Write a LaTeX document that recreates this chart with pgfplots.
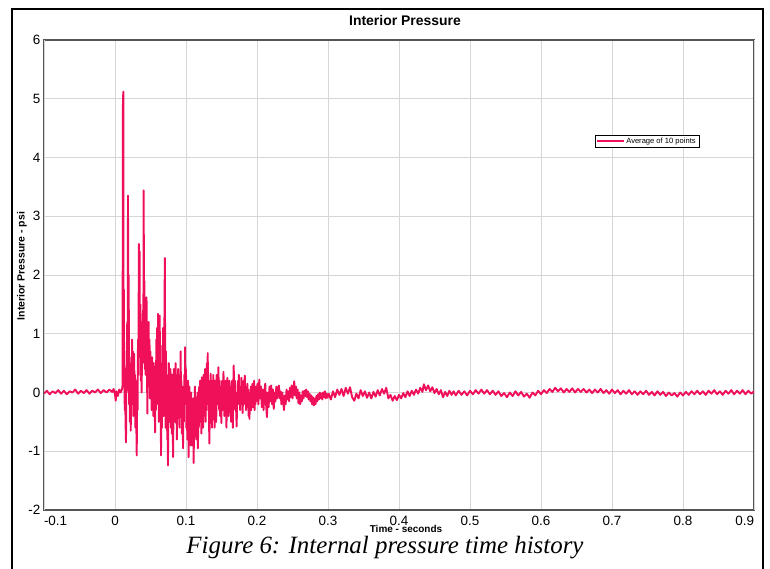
\documentclass[border=0pt]{standalone}
\usepackage{fontspec}
\setmainfont{Liberation Serif}
\setsansfont{Liberation Sans}
\usepackage{pgfplots}
\pgfplotsset{compat=1.18}

\definecolor{sig}{RGB}{240,16,90}
\definecolor{gridc}{RGB}{214,214,214}
\definecolor{framec}{RGB}{85,85,85}

\begin{document}
\begin{tikzpicture}
\useasboundingbox (0bp,0bp) rectangle (770bp,-569bp);
% outer frame of the figure
\draw[line width=2.4bp] (12bp,-572bp) -- (12bp,-9bp) -- (763bp,-9bp) -- (763bp,-572bp);

\begin{axis}[
  at={(44bp,-40bp)}, anchor=north west,
  width=710bp, height=470bp, scale only axis,
  xmin=-0.1, xmax=0.9, ymin=-2, ymax=6,
  xtick={0,0.1,0.2,0.3,0.4,0.5,0.6,0.7,0.8},
  extra x ticks={-0.1,0.9},
  extra x tick labels={\hphantom{-0.1}-0.1,0.9\hphantom{0.9}},
  ytick={-2,-1,0,1,2,3,4,5,6},
  /pgf/number format/assume math mode=true,
  ticklabel style={font=\sffamily\fontsize{13.5}{15}\selectfont},
  yticklabel style={inner sep=1bp, xshift=-2.5bp},
  xticklabel style={inner sep=1bp, yshift=-5bp},
  major tick length=0pt,
  grid=major,
  major grid style={gridc, line width=0.8bp},
  axis line style={framec, line width=1.3bp},
  title={Interior Pressure},
  title style={font=\sffamily\bfseries\fontsize{14}{16}\selectfont, at={(0.5,1)}, anchor=center, yshift=14bp, xshift=6bp},
  legend style={at={(rel axis cs:0.776,0.798)}, anchor=north west, draw=black, line width=0.9bp,
    font=\sffamily\fontsize{7.6}{8}\selectfont, inner xsep=2bp, inner ysep=0.3bp, row sep=0pt},
  legend cell align=left,
]
\addplot[sig, line width=1.9bp, line join=round,
  legend image code/.code={\fill[draw=none, fill=sig] (0cm,-0.7bp) rectangle (0.95cm,0.7bp);}] coordinates {
(-0.100,-0.02) (-0.096,0.03) (-0.092,-0.03) (-0.088,0.02) (-0.084,-0.01) (-0.080,0.04)
(-0.076,-0.02) (-0.072,0.03) (-0.068,-0.03) (-0.064,0.02) (-0.060,0.00) (-0.056,0.05)
(-0.052,-0.02) (-0.048,0.03) (-0.044,-0.01) (-0.040,0.04) (-0.036,-0.02) (-0.032,0.03)
(-0.028,0.00) (-0.024,0.05) (-0.020,-0.01) (-0.016,0.04) (-0.012,0.00) (-0.008,0.05)
(-0.004,0.01) (-0.002,0.06) (0.000,-0.03) (0.001,-0.14) (0.002,0.02) (0.004,-0.06)
(0.006,0.05) (0.008,0.00) (0.0100,0.06)
(0.0106,0.12) (0.0112,4.95) (0.0117,5.12) (0.0121,0.6) (0.0125,1.75) (0.0129,0.3)
(0.0133,0.7) (0.0137,-0.3) (0.0142,0.4) (0.0148,-0.5) (0.0155,-0.85) (0.0160,0.2)
(0.0166,0.0) (0.0172,1.2) (0.0178,0.3) (0.0183,3.35) (0.0188,0.8) (0.0193,2.0)
(0.0198,-0.2) (0.0204,0.6) (0.0210,-0.5) (0.0216,0.1) (0.0222,-0.65) (0.0228,0.5)
(0.0234,-0.2) (0.0240,0.9) (0.0246,0.1) (0.0252,0.7) (0.0258,-0.4) (0.0264,0.4)
(0.0270,0.66) (0.0276,-0.3) (0.0282,0.3) (0.0288,-0.6) (0.0294,0.2) (0.0300,-0.5)
(0.0306,-1.07) (0.0312,0.1) (0.0318,-0.3) (0.0324,0.9) (0.0330,0.3) (0.0336,2.53)
(0.0341,1.0) (0.0346,2.4) (0.0352,0.6) (0.0358,1.5) (0.0364,0.2) (0.0370,0.94)
(0.0376,0.0) (0.0382,1.2) (0.0388,0.5) (0.0394,1.4) (0.0399,0.8) (0.0404,3.44)
(0.0409,1.1) (0.0414,1.9) (0.0420,0.4) (0.0426,1.34) (0.0432,0.3) (0.0438,1.0)
(0.0444,1.62) (0.0450,0.5) (0.0456,-0.36) (0.0462,0.8) (0.0468,0.1) (0.0474,1.2)
(0.0480,0.2) (0.0486,0.9) (0.0492,-0.1) (0.0498,0.7) (0.0504,0.0) (0.0510,0.49)
(0.0516,-0.3) (0.0522,0.6) (0.0528,-0.1) (0.0534,0.3) (0.0540,-0.4) (0.0546,0.5)
(0.0552,-0.2) (0.0558,0.2) (0.0564,-0.68) (0.0570,0.4) (0.0576,-0.3) (0.0582,0.9)
(0.0588,-0.2) (0.0594,1.1) (0.0600,0.1) (0.0606,1.34) (0.0612,0.3) (0.0618,-0.5)
(0.0624,0.6) (0.0630,1.31) (0.0636,-0.4) (0.0642,0.4) (0.0648,-1.07) (0.0654,0.2)
(0.0660,-0.6) (0.0666,0.8) (0.0672,0.0) (0.0678,1.1) (0.0684,-0.4)
(0.0690,0.5) (0.0696,1.2) (0.0702,2.29) (0.0707,0.4) (0.0712,-0.6) (0.0718,0.7)
(0.0724,-0.3) (0.0730,0.3) (0.0736,-0.8) (0.0742,0.1) (0.0746,-1.24) (0.0752,-0.2)
(0.0758,0.5) (0.0764,-0.5) (0.0770,0.2) (0.0776,-0.3) (0.0782,0.4) (0.0788,-0.6)
(0.0794,0.1) (0.0800,-0.7) (0.0806,0.3) (0.0812,-0.4) (0.0818,-1.1) (0.0824,-0.2)
(0.0830,0.4) (0.0836,-0.5) (0.0842,0.2) (0.0848,-0.3) (0.0854,0.5) (0.0860,-0.52)
(0.0866,0.1) (0.0872,-0.8) (0.0878,0.3) (0.0884,-0.4) (0.0890,0.4) (0.0896,-0.2)
(0.0902,0.2) (0.0908,-0.6) (0.0914,0.3) (0.0920,-0.1) (0.0925,0.7) (0.0930,-0.3)
(0.0936,0.2) (0.0942,-0.7) (0.0948,0.1) (0.0954,-0.4) (0.0958,-0.95) (0.0964,0.0)
(0.0970,-0.5) (0.0976,0.3) (0.0982,-0.2) (0.0988,0.77) (0.0994,-0.1) (0.1000,0.4)
(0.1006,-0.6) (0.1012,0.0) (0.1018,-0.8) (0.1024,-0.2) (0.1030,0.2) (0.1036,-1.1)
(0.1042,-0.4) (0.1048,0.1) (0.1054,-0.7) (0.1060,-0.2) (0.1066,-0.9) (0.1072,0.0)
(0.1078,-0.43) (0.1084,-0.9) (0.1090,-0.3) (0.1096,-0.8) (0.1102,-0.1) (0.1108,-1.2)
(0.1114,-0.4) (0.1120,-0.7) (0.1126,0.1) (0.1132,-0.52) (0.1138,-0.2) (0.1144,-0.8)
(0.1150,-0.3) (0.1156,-0.6) (0.1162,0.0) (0.1168,-0.95) (0.1174,-0.3) (0.1180,-0.6)
(0.1186,0.1) (0.1192,-0.4) (0.1198,0.2) (0.1204,-0.5) (0.1210,0.0) (0.1216,-0.7)
(0.1222,0.26) (0.1228,-0.3) (0.1234,0.1) (0.1240,-0.6) (0.1246,0.3) (0.1252,-0.4)
(0.1258,0.2) (0.1264,-0.2) (0.1270,0.4) (0.1276,-0.5) (0.1282,0.1) (0.1288,-0.3)
(0.1294,0.5) (0.1300,-0.1) (0.1306,0.67) (0.1312,-0.2) (0.1318,0.2) (0.1324,-0.5)
(0.1330,-0.87) (0.1336,0.0) (0.1342,-0.3) (0.1348,0.32) (0.1354,-0.2) (0.1360,0.1)
(0.1366,-0.6) (0.1372,0.2) (0.1378,-0.3) (0.1384,0.3) (0.1390,-0.4) (0.1396,0.0)
(0.1402,-0.6) (0.1408,0.2) (0.1414,-0.3) (0.1420,0.1) (0.1426,-0.5) (0.1432,0.3)
(0.1438,-0.1) (0.1444,0.2) (0.1450,-0.2) (0.1456,0.43) (0.1462,0.0) (0.1468,-0.3)
(0.1474,0.2) (0.1480,-0.4) (0.1486,0.1) (0.1492,-0.2) (0.1498,-0.52) (0.1504,0.0)
(0.1510,0.2) (0.1516,-0.3) (0.1522,0.1) (0.1528,0.35) (0.1534,-0.1) (0.1540,-0.4)
(0.1546,0.1) (0.1552,-0.2) (0.1558,0.2) (0.1564,-0.3) (0.1570,-0.6) (0.1576,0.0)
(0.1582,0.25) (0.1588,-0.2) (0.1594,0.1) (0.1600,-0.4) (0.1606,0.0) (0.1612,0.2)
(0.1618,-0.3) (0.1624,0.1) (0.1630,-0.2) (0.1636,-0.5) (0.1642,0.0) (0.1648,0.2)
(0.1654,-0.3) (0.1660,-0.6) (0.1666,0.1) (0.1672,0.46) (0.1678,0.0) (0.1684,-0.2)
(0.1690,0.2) (0.1696,-0.3) (0.1702,0.0) (0.1708,-0.4) (0.1714,-0.58) (0.1720,0.0)
(0.1726,-0.2) (0.1732,0.2) (0.1738,-0.1) (0.1744,0.3) (0.1750,-0.2) (0.1756,0.0)
(0.1762,-0.3) (0.1768,0.1) (0.1774,-0.2) (0.1780,0.25) (0.1786,-0.1) (0.1792,0.1)
(0.1798,-0.35) (0.1804,0.0) (0.1810,0.2) (0.1816,-0.2) (0.1822,0.1) (0.1828,0.29)
(0.1834,-0.1) (0.1840,0.1) (0.1846,-0.3) (0.1852,0.0) (0.1858,-0.2) (0.1864,0.15)
(0.1870,-0.25) (0.1876,0.05) (0.1882,-0.4) (0.1888,-0.1) (0.1894,-0.45) (0.1900,0.0)
(0.1906,-0.2) (0.1912,0.1) (0.1918,-0.3) (0.1924,0.05) (0.1930,-0.15) (0.1936,0.15)
(0.1942,-0.25) (0.1948,0.1) (0.1954,-0.1) (0.1960,0.2) (0.1966,-0.3) (0.1972,0.0)
(0.1978,-0.2) (0.1984,0.1) (0.1990,-0.15) (0.1996,0.05)
(0.2008,0.15) (0.2020,-0.2) (0.2032,0.22) (0.2044,-0.1) (0.2056,0.1) (0.2068,-0.25)
(0.2080,0.05) (0.2092,-0.3) (0.2104,0.0) (0.2116,0.15) (0.2128,-0.2) (0.2140,-0.42)
(0.2152,0.0) (0.2164,-0.25) (0.2176,0.1) (0.2188,-0.15) (0.2200,0.12) (0.2212,-0.2)
(0.2224,0.05) (0.2236,-0.28) (0.2248,0.0) (0.2260,-0.15) (0.2272,0.1) (0.2284,-0.1)
(0.2296,0.05) (0.2308,0.12) (0.2320,-0.1) (0.2332,0.02) (0.2344,-0.2) (0.2356,0.0)
(0.2368,-0.15) (0.2380,-0.3) (0.2392,-0.05) (0.2404,-0.2) (0.2416,0.05) (0.2428,-0.12)
(0.2440,0.02) (0.2452,-0.15) (0.2464,0.08) (0.2476,-0.08) (0.2488,0.12) (0.2500,-0.1)
(0.2512,0.05) (0.2524,0.19) (0.2536,-0.05) (0.2548,0.1) (0.2560,-0.1) (0.2572,0.05)
(0.2584,-0.18) (0.2596,0.0) (0.2608,-0.2) (0.2620,-0.05) (0.2632,-0.15) (0.2644,0.02)
(0.2656,-0.1) (0.2668,0.03) (0.2680,-0.06) (0.2692,0.05) (0.2704,-0.08) (0.2716,0.02)
(0.2728,-0.12) (0.2740,-0.02) (0.2752,-0.15) (0.2764,-0.05) (0.2776,-0.2) (0.2788,-0.08)
(0.2800,-0.22) (0.2812,-0.1) (0.2824,-0.2) (0.2836,-0.06) (0.2848,-0.15) (0.2860,-0.03)
(0.2872,-0.12) (0.2884,0.0) (0.2896,-0.1) (0.2908,-0.02) (0.2920,-0.12) (0.2932,0.0)
(0.2944,-0.08) (0.2956,0.02) (0.2968,-0.1) (0.2980,-0.02) (0.2992,-0.09)
(0.3010,-0.02) (0.3040,-0.12) (0.3070,0.02) (0.3100,-0.08) (0.3130,0.05) (0.3160,-0.04)
(0.3190,0.06) (0.3220,-0.06) (0.3250,0.08) (0.3280,-0.02) (0.3310,0.09) (0.3340,-0.08)
(0.3370,-0.14) (0.3400,-0.02) (0.3430,-0.1) (0.3460,0.04) (0.3490,-0.06) (0.3520,0.02)
(0.3550,-0.09) (0.3580,0.0) (0.3610,-0.1) (0.3640,0.01) (0.3670,-0.07) (0.3700,0.04)
(0.3730,-0.05) (0.3760,0.06) (0.3790,-0.02) (0.3820,0.08) (0.3850,-0.1) (0.3880,-0.04)
(0.3910,-0.14) (0.3940,-0.06) (0.3970,-0.13) (0.4000,-0.04) (0.4030,-0.1) (0.4060,-0.01)
(0.4090,-0.08) (0.4120,0.02) (0.4150,-0.06) (0.4180,0.03) (0.4210,-0.04) (0.4240,0.05)
(0.4270,-0.02) (0.4300,0.08) (0.4330,0.01) (0.4350,0.14) (0.4380,0.04) (0.4410,0.12)
(0.4440,0.02) (0.4470,0.09) (0.4500,-0.01) (0.4530,0.06) (0.4560,-0.03) (0.4590,0.04)
(0.4620,-0.08) (0.4650,0.01) (0.4680,-0.06) (0.4710,0.03) (0.4740,-0.04) (0.4770,0.02)
(0.4800,-0.05) (0.4840,0.03) (0.4880,-0.04) (0.4920,0.02) (0.4960,-0.05) (0.5000,0.03)
(0.5040,-0.03) (0.5080,0.04) (0.5120,-0.02) (0.5160,0.05) (0.5200,-0.02) (0.5240,0.04)
(0.5280,-0.03) (0.5320,0.03) (0.5360,-0.04) (0.5400,0.02) (0.5440,-0.06) (0.5480,-0.01)
(0.5520,-0.08) (0.5560,0.0) (0.5600,-0.06) (0.5640,0.02) (0.5680,-0.05) (0.5720,0.01)
(0.5760,-0.07) (0.5800,-0.02) (0.5840,-0.09) (0.5880,0.0) (0.5920,-0.05) (0.5960,0.03)
(0.6000,-0.03) (0.6040,0.04) (0.6080,-0.01) (0.6120,0.06) (0.6160,0.01) (0.6200,0.08)
(0.6240,0.02) (0.6280,0.07) (0.6320,0.0) (0.6360,0.06) (0.6400,0.01) (0.6440,0.07)
(0.6480,0.0) (0.6520,0.06) (0.6560,0.01) (0.6600,0.06) (0.6640,0.0) (0.6680,0.05)
(0.6720,-0.01) (0.6760,0.05) (0.6800,0.0) (0.6840,0.06) (0.6880,-0.01) (0.6920,0.04)
(0.6960,-0.02) (0.7000,0.05) (0.7040,-0.01) (0.7080,0.04) (0.7120,-0.03) (0.7160,0.03)
(0.7200,-0.02) (0.7240,0.04) (0.7280,-0.03) (0.7320,0.02) (0.7360,-0.04) (0.7400,0.02)
(0.7440,-0.03) (0.7480,0.03) (0.7520,-0.04) (0.7560,0.01) (0.7600,-0.05) (0.7640,0.02)
(0.7680,-0.04) (0.7720,0.01) (0.7760,-0.06) (0.7800,0.0) (0.7840,-0.05) (0.7880,-0.01)
(0.7920,-0.07) (0.7960,0.0) (0.8000,-0.05) (0.8040,0.01) (0.8080,-0.04) (0.8120,0.02)
(0.8160,-0.03) (0.8200,0.03) (0.8240,-0.03) (0.8280,0.02) (0.8320,-0.04) (0.8360,0.03)
(0.8400,-0.02) (0.8440,0.04) (0.8480,-0.03) (0.8520,0.02) (0.8560,-0.04) (0.8600,0.03)
(0.8640,-0.02) (0.8680,0.04) (0.8720,-0.03) (0.8760,0.03) (0.8800,-0.02) (0.8840,0.04)
(0.8880,-0.03) (0.8920,0.03) (0.8960,-0.02) (0.9000,0.02)
};
\addlegendentry{Average of 10 points}
\end{axis}

\node[rotate=90, font=\sffamily\bfseries\fontsize{10.5}{12}\selectfont] at (22bp,-266bp) {Interior Pressure - psi};
\node[font=\sffamily\bfseries\fontsize{10}{12}\selectfont] at (406bp,-529bp) {Time - seconds};
\node[font=\itshape\fontsize{25}{28}\selectfont] at (385bp,-548bp) {Figure 6: Internal pressure time history};
\end{tikzpicture}
\end{document}
